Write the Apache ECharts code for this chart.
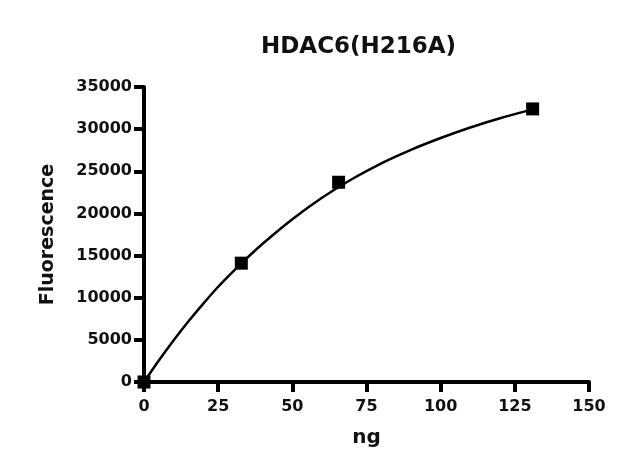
<!DOCTYPE html>
<html>
<head>
<meta charset="utf-8">
<script src="https://cdn.jsdelivr.net/npm/echarts@6/dist/echarts.min.js"></script>
<style>
html,body{margin:0;padding:0;background:#fff;}
#chart{width:640px;height:474px;}
</style>
</head>
<body>
<div id="chart"></div>
<script>
// Measured points (ng, fluorescence)
const pointsX = [0, 32.8, 65.6, 131];
const pointsY = [0, 14100, 23700, 32400];
// Fitted curve
const curveX = [0, 5, 10, 15, 20, 25, 30, 35, 40, 50, 60, 70, 80, 90, 100, 110, 120, 131];
const curveY = [0, 2550, 4950, 7200, 9300, 11300, 13100, 14800, 16400, 19300, 21850, 24050, 25950, 27550, 28950, 30200, 31300, 32350];
const xTicks = [0, 25, 50, 75, 100, 125, 150];
const yTicks = [0, 5000, 10000, 15000, 20000, 25000, 30000, 35000];

const FONT = 'DejaVu Sans';
const chart = echarts.init(document.getElementById('chart'), null, {renderer: 'canvas'});
chart.setOption({
  backgroundColor: '#fff',
  animation: false,
  title: {
    text: 'HDAC6(H216A)',
    left: 256, top: 31,
    textStyle: {fontFamily: FONT, fontWeight: 'bold', fontSize: 23, color: '#111'}
  },
  grid: {left: 144, right: 51, top: 87, bottom: 92, containLabel: false},
  xAxis: {
    type: 'value', min: xTicks[0], max: xTicks[xTicks.length - 1], interval: 25,
    name: 'ng', nameLocation: 'middle', nameGap: 46,
    nameTextStyle: {fontFamily: FONT, fontWeight: 'bold', fontSize: 20, color: '#111'},
    axisLine: {show: true, onZero: false, lineStyle: {color: '#000', width: 4}},
    axisTick: {show: true, length: 10, lineStyle: {color: '#000', width: 4}},
    axisLabel: {margin: 17, fontFamily: FONT, fontWeight: 'bold', fontSize: 16, color: '#111',
      formatter: v => String(v)},
    splitLine: {show: false}
  },
  yAxis: {
    type: 'value', min: yTicks[0], max: yTicks[yTicks.length - 1], interval: 5000,
    name: 'Fluorescence', nameLocation: 'middle', nameGap: 86,
    nameTextStyle: {fontFamily: FONT, fontWeight: 'bold', fontSize: 19, color: '#111'},
    axisLine: {show: true, onZero: false, lineStyle: {color: '#000', width: 4}},
    axisTick: {show: true, length: 10, lineStyle: {color: '#000', width: 4}},
    axisLabel: {margin: 12, fontFamily: FONT, fontWeight: 'bold', fontSize: 16, color: '#111',
      formatter: v => String(v)},
    splitLine: {show: false}
  },
  series: [
    {
      type: 'line', smooth: 0.3, showSymbol: false, symbol: 'none',
      data: curveX.map((x, i) => [x, curveY[i]]),
      lineStyle: {color: '#000', width: 2.5},
      z: 2
    },
    {
      type: 'scatter', symbol: 'rect', symbolSize: 13, clip: false,
      data: pointsX.map((x, i) => [x, pointsY[i]]),
      itemStyle: {color: '#000', opacity: 1},
      z: 3
    }
  ]
});
</script>
</body>
</html>
